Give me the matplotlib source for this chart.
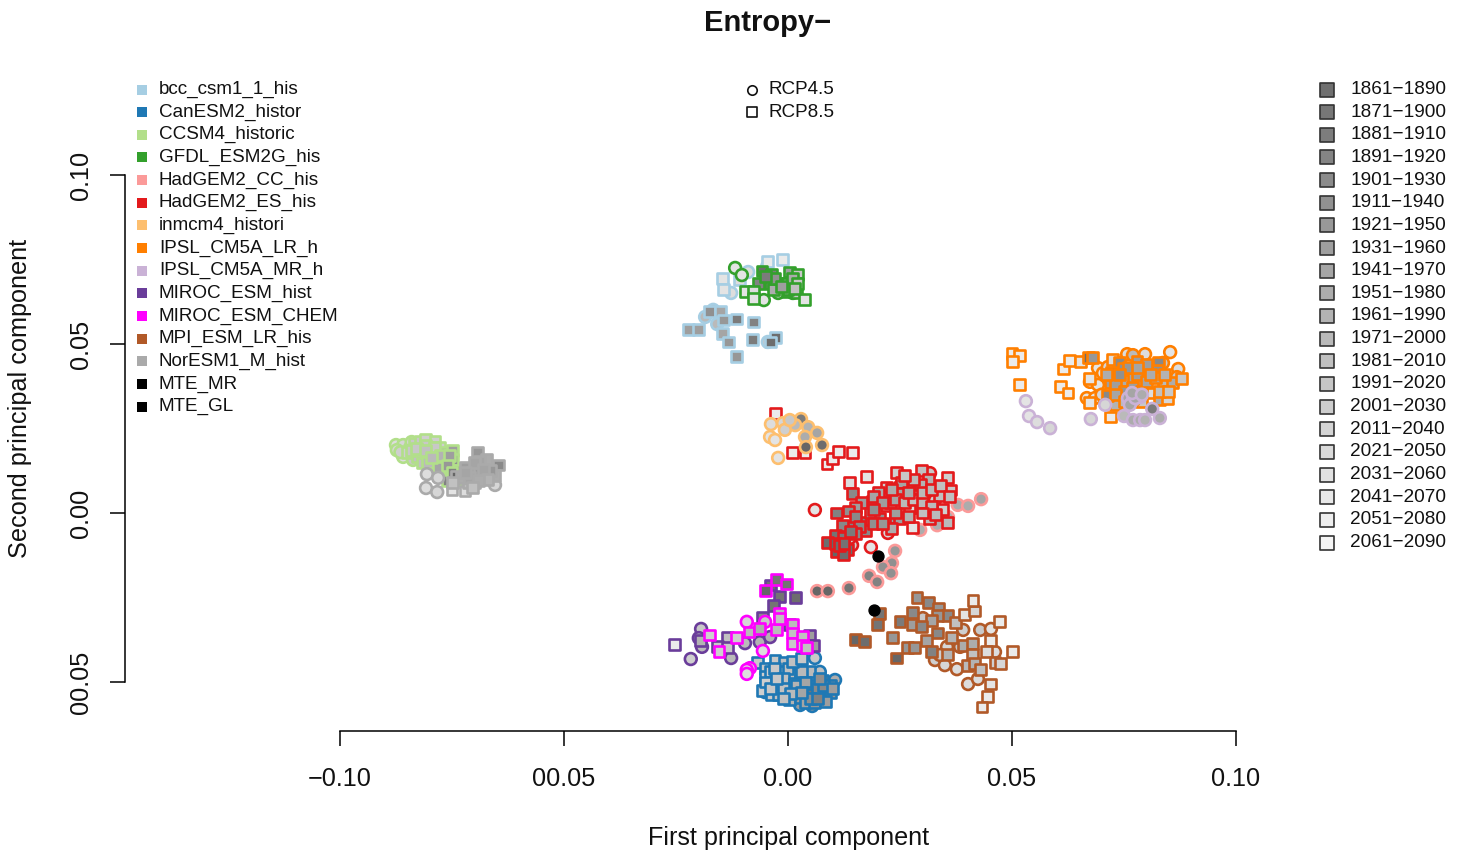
import matplotlib
matplotlib.use("Agg")
import matplotlib.pyplot as plt

plt.rcParams['font.family'] = ['Liberation Sans', 'DejaVu Sans']

W, H = 1461, 851

# ==========================================
# Data: (PC1 x 1000, PC2 x 1000, period index 0-19)
# ==========================================
bcc_circ = [(-8.9, 71.3, 17), (-12.7, 65.1, 17), (-4.7, 72.8, 18), (-18.5, 58.0, 12), (-15.8, 55.9, 12),
            (-16.7, 60.1, 11), (-4.5, 50.6, 14)]
bcc_sq = [(-4.5, 74.3, 19), (-1.3, 74.9, 19), (-14.7, 69.5, 18), (-14.5, 66.0, 18), (-10.9, 69.2, 17),
          (-17.6, 59.5, 6), (-15.0, 59.5, 9), (-14.5, 57.1, 7), (-11.6, 57.4, 3), (-7.6, 56.5, 4),
          (-22.3, 54.4, 8), (-19.9, 54.4, 8), (-14.7, 53.0, 9), (-13.2, 50.6, 7), (-8.0, 51.2, 3),
          (-11.4, 46.2, 7), (-2.7, 51.8, 1), (-4.0, 50.6, 1)]

can_circ = [(6, -42.9, 14), (7.1, -47, 13), (-5.1, -53, 14), (-0.7, -53.8, 14), (10.5, -49.4, 10), (4.9, -52.4, 9),
            (2.7, -56.8, 8), (5.4, -57.1, 7), (8.3, -52.4, 6), (0.4, -49.4, 12), (-2.2, -45, 13)]
can_sq = [(-6.9, -44.1, 14), (-5.1, -45.9, 14), (-2.9, -43.5, 14), (-0.7, -44.1, 13), (2, -45, 13), (-5.1, -48.5, 15),
          (-4, -50.9, 15), (-1.8, -47, 13), (0.4, -47.9, 13), (2.7, -49.4, 12), (4.9, -47, 12), (-5.8, -52.4, 15),
          (-3.6, -53.8, 14), (-1.3, -50.9, 13), (0.9, -52.4, 12), (3.1, -52.4, 11), (5.4, -50.9, 8), (7.6, -49.4, 3),
          (9.4, -50.9, 6), (0.4, -55.3, 11), (2.7, -54.7, 8), (4.9, -53.8, 2), (7.1, -53.8, 4), (9.4, -53, 7),
          (3.8, -56.2, 9), (6, -56.2, 7), (8.3, -55.9, 8), (-4, -47, 15), (-2.2, -53.8, 13),
          (-3, -46, 14), (0, -46, 13), (3, -47, 12), (-1, -49, 13), (1.5, -50.5, 12), (-3, -50, 14), (-5, -50, 15),
          (-1, -52, 13), (2, -51, 11), (4, -50, 9), (6.5, -52, 5), (8, -51, 5), (5, -55, 6), (6.5, -54.8, 4),
          (3, -53, 9), (0.5, -53.5, 12), (-1, -55, 13), (10, -52, 8), (7, -49, 6), (-4, -52, 14), (-2.5, -49, 14),
          (1, -44, 13), (3, -43, 14)]

ccsm_circ = [(-87.5, 20.1, 17), (-85.9, 20.1, 16), (-85.9, 16.6, 17), (-87.3, 18.6, 16), (-84.4, 19.2, 15),
             (-83.7, 15.7, 14), (-81.0, 17.2, 14), (-79.2, 13.6, 14), (-86.5, 18, 15), (-84, 21, 16), (-82, 16, 14)]
ccsm_sq = [(-83.3, 20.7, 14), (-82.1, 21.3, 14), (-81.0, 21.9, 15), (-78.8, 21.3, 15), (-80.4, 19.5, 13),
           (-82.6, 18.0, 13), (-85.0, 17.8, 15), (-82.8, 16.6, 13), (-79.9, 17.8, 14), (-77.7, 19.5, 15),
           (-77.0, 17.8, 9), (-74.8, 18.6, 8), (-81.5, 14.8, 13), (-79.2, 15.7, 13), (-77.0, 14.8, 6),
           (-74.8, 15.7, 6), (-76.3, 12.7, 5), (-73.7, 12.7, 5), (-75.4, 10.7, 3), (-77.7, 11.2, 8),
           (-74.3, 9.8, 2), (-78.3, 16.3, 12), (-84, 18.5, 14), (-81, 20, 14), (-79, 19.5, 14), (-77.5, 17, 11),
           (-75.5, 17, 8), (-80.5, 15, 12), (-78, 13.5, 9), (-76, 14, 7), (-76, 9.5, 4), (-75, 12, 4),
           (-83, 19, 14), (-81, 18.5, 13), (-79.5, 16.5, 12)]

gfdl_circ = [(-11.8, 72.5, 18), (-10.3, 70.4, 18), (-5.4, 63.0, 18), (-2.2, 65.1, 15), (1.1, 65.1, 14)]
gfdl_sq = [(-5.8, 71.6, 1), (-3.6, 70.7, 3), (0.4, 71.3, 8), (2.2, 70.7, 14), (-6.5, 68.0, 4), (-4.0, 68.0, 4),
           (-2.2, 68.0, 6), (-0.2, 68.0, 10), (1.6, 68, 12), (-9.4, 65.4, 18), (-7.8, 65.4, 17), (-7.8, 63.6, 18),
           (-3.3, 66, 10), (-0.2, 65.4, 12), (2, 65.1, 14), (3.6, 63.3, 18), (-2.9, 69.5, 6), (0.9, 69.5, 10),
           (2.2, 68, 14), (0, 66, 11), (1.5, 66.5, 13), (-1.5, 67, 8), (-5, 70, 3)]

cc_circ = [(37.9, 2.4, 10), (40.2, 2.1, 10), (43.1, 4.1, 9), (33.3, -3.6, 10), (29.5, -5, 10), (23.9, -11.2, 7),
           (23.2, -14.8, 6), (21.2, -16, 6), (23, -17.8, 6), (18.1, -18.6, 4), (19.9, -20.4, 4), (13.6, -22.2, 2),
           (6.5, -23.1, 0), (8.9, -23.1, 0), (35.7, -1.2, 10)]
cc_sq = []

es_circ = [(6, 0.9, 18), (18.5, -10.1, 18), (22.3, -5.9, 16), (14.3, -9.5, 15), (13.8, -7.4, 15), (29.9, 4.7, 13),
           (25.7, 10.7, 14), (31.7, 11.8, 14), (26.8, 5.3, 14), (32.8, 3.8, 15), (25, 8, 13), (29, 7, 13)]
es_sq = [(-2.7, 29.3, 19), (1.1, 17.8, 19), (3.8, 18.0, 19), (8.7, 14.5, 19), (10, 16, 19), (11.2, 18.3, 19),
         (14.5, 18.0, 19), (17.6, 10.7, 18), (13.8, 8.9, 17), (24.3, 12.1, 15), (29.9, 12.7, 13), (35.5, 10.4, 15),
         (36.2, 6.8, 14), (27.7, -4.4, 18), (35.7, -2.7, 12), (31.5, -1.5, 12), (34.4, 0.9, 15), (29, 1.5, 16),
         (27.2, 1.5, 17), (21.9, 7.7, 15), (21.9, 2.1, 16), (33.9, 5.3, 13), (31.3, 9.8, 11), (29.5, 8.3, 11),
         (25.4, 8.9, 9), (25.4, 5.9, 9), (20.3, 6.2, 10), (14.3, 5.9, 5), (18.8, 3.3, 8), (16.5, 3.0, 8),
         (15, 1.5, 8), (13.4, 0.6, 6), (10.9, 0, 4), (20.5, -1.5, 6), (23.9, -1.2, 8), (24.8, -1.5, 8),
         (16.1, -2.7, 4), (13.4, -4.1, 4), (17.2, -5.3, 5), (23.2, -4.7, 10), (12.1, -3.6, 5), (22.8, 3, 11),
         (18.3, 0, 7), (10.5, -6.5, 2), (12.3, -7.1, 3), (8.9, -8.6, 1), (10.9, -11.5, 0), (13.2, -10.9, 1),
         (12.3, -12.4, 1), (10.5, -8.9, 0), (19, 5, 9), (21, 3, 8), (24, 4, 9), (26, 3, 12), (28, 4, 13),
         (30, 3, 12), (32, 2, 12), (24, 0, 8), (27, -1, 11), (30, 0, 13), (33, -0.5, 12), (23, 7, 10), (27, 6, 10),
         (30, 6, 12), (32, 7, 12), (34, 8, 13), (28, 10, 12), (26, 11, 14), (19, 1, 6), (15, -1, 5), (16, -4, 5),
         (15, -6, 5), (11.5, -9.5, 1), (14, -5.5, 3), (12.5, -9, 2), (19, -3, 6), (21, -3, 7), (36, 5, 13)]

inm_circ = [(-3.8, 26.3, 17), (-1.1, 26.6, 16), (-4.0, 22.5, 18), (-2.9, 21.6, 18), (-2.2, 16.3, 18), (2.9, 27.8, 3),
            (4.5, 25.4, 11), (6.5, 23.7, 9), (3.8, 22.5, 10), (4.0, 19.5, 0), (7.6, 20.1, 1), (1.6, 26.0, 12),
            (-0.7, 24.6, 15), (0.4, 27.5, 14)]
inm_sq = []

lr_circ = [(75.7, 47, 17), (79.7, 47, 17), (85.3, 47.6, 18), (87.1, 42.6, 17), (69.2, 42.9, 18), (70.3, 41.4, 18),
           (67.4, 38.8, 18), (69.2, 37.9, 18), (66.7, 34, 18), (68.5, 34, 18), (71.4, 43.2, 16), (73.7, 44.4, 15),
           (83.7, 44.4, 14), (86.8, 40.2, 14), (77, 46.7, 12), (72, 39, 15), (70, 35, 16)]
lr_sq = [(50, 47.3, 19), (51.6, 46.7, 19), (50.2, 44.7, 19), (51.6, 37.9, 19), (61.4, 42.6, 19), (62.9, 45, 19),
         (65.2, 44.7, 18), (67, 45.9, 1), (67.9, 45.9, 7), (60.9, 37.3, 19), (62.5, 35.5, 19), (67.4, 39.9, 18),
         (67.4, 32.8, 18), (71.9, 28.4, 19), (73, 32.2, 11), (72.5, 45.3, 17), (74.1, 44.4, 5), (77.9, 44.7, 8),
         (72.3, 41.7, 2), (74.8, 42.9, 6), (71.9, 38.5, 8), (71.4, 34.9, 5), (75.9, 36.4, 0), (76.8, 39.9, 9),
         (79, 41.4, 9), (82.6, 44.4, 5), (82.4, 42.3, 6), (83.7, 37.9, 12), (81.3, 38.5, 16), (80.8, 35.5, 17),
         (83, 33.7, 10), (84.8, 34, 16), (85.9, 38.5, 10), (87.9, 39.9, 14), (78.6, 38.5, 9), (74.6, 39.3, 10),
         (73, 38, 8), (75, 36, 7), (77, 37, 8), (79, 36, 10), (78, 41, 8), (80, 39, 9), (82, 40, 10), (84, 41, 11),
         (76, 43, 7), (80, 44, 8), (73, 35, 9), (75, 33, 12), (71, 41, 10), (74, 41, 6), (78, 43, 9), (81, 41, 10),
         (83, 36, 13), (85, 36, 14), (79, 33, 14), (77, 34, 13)]

mr_circ = [(53.1, 33.1, 18), (53.8, 28.7, 18), (55.6, 26.9, 17), (58.5, 25.1, 16), (67.6, 27.8, 16), (70.8, 32, 16),
           (75, 28.7, 12), (77, 27.5, 10), (78.6, 27.5, 10), (79.7, 27.5, 11), (83, 28.1, 10), (81.3, 30.8, 3),
           (75.9, 34, 9), (77, 33.4, 9), (78.6, 34.3, 9), (76.3, 32, 9), (77.5, 34, 9), (76.8, 35.5, 9), (79, 35, 10)]
mr_sq = []

miroc_circ = [(-19.4, -34.3, 14), (-19.9, -37, 12), (-19.2, -39.6, 12), (-21.7, -43.2, 15), (-12.7, -42.9, 12),
              (-9.6, -38.5, 12), (-6.3, -38.2, 11), (-4, -36.7, 11)]
miroc_sq = [(-25.4, -38.8, 19), (-1.8, -24.6, 2), (1.6, -25.1, 1), (-3.3, -27.5, 2), (-4, -21.3, 1), (-5.6, -30.8, 5),
            (-19.6, -37.6, 11), (-13.6, -36.7, 13), (-15.8, -39.6, 14), (-13.4, -39.9, 14), (0.4, -33.1, 8),
            (4.9, -36.1, 8), (5.6, -39.3, 8)]

chem_circ = [(-9.2, -32.2, 16), (-5.1, -32.2, 14), (-5.6, -40.8, 17), (-8.5, -45.9, 17), (-9.2, -46.4, 17),
             (-9.2, -47.6, 17)]
chem_sq = [(-5.1, -22.8, 0), (-2.5, -19.8, 2), (-0.4, -21, 2), (-17.6, -36.1, 15), (-15.4, -41.1, 15), (-11.6, -36.7, 15),
           (-8.7, -35.2, 12), (-6.3, -34.3, 10), (-1.8, -29.6, 12), (-2.5, -34.6, 12), (0.9, -33.1, 12), (0.9, -35.5, 13),
           (1.1, -38.5, 14), (3.3, -36.4, 13), (3.3, -39.1, 14), (4.2, -39.9, 13), (-1.8, -31.1, 13)]

mpi_circ = [(30.1, -31.1, 14), (39.1, -34.6, 15), (42.9, -34.6, 14), (45.3, -34.3, 18), (35.5, -39.6, 16), (38.4, -39.6, 14),
            (46.2, -41.1, 17), (32.8, -43.5, 15), (35, -45, 16), (37.7, -46.2, 17), (40.2, -50.6, 17), (42.4, -49.1, 17),
            (33.9, -42, 15)]
mpi_sq = [(28.8, -24.9, 7), (31.3, -26.6, 5), (33.5, -28.1, 7), (27.7, -29.3, 5), (35.7, -30.2, 5), (33.3, -30.2, 7),
          (25, -32.2, 3), (32.1, -31.7, 9), (27.7, -33.1, 8), (29.9, -33.7, 5), (37.3, -32.5, 13), (39.5, -29.9, 18),
          (41.7, -29, 16), (41.3, -26, 19), (47.3, -32.2, 19), (33.3, -35.5, 5), (36.6, -36.7, 11), (23.4, -36.7, 7),
          (20.5, -29.6, 2), (19.9, -33.1, 2), (15, -37.3, 0), (17, -37.9, 1), (24.3, -42.9, 0), (26.6, -39.9, 7),
          (28.3, -39.9, 7), (31, -37.6, 9), (32.1, -41.1, 4), (35.5, -42, 11), (39.1, -39.1, 10), (41.1, -38.5, 10),
          (41.1, -42, 13), (40, -45, 12), (41.7, -44.4, 11), (42.9, -46.4, 13), (45.1, -37.6, 19), (44.4, -41.1, 17),
          (50.2, -41.1, 19), (46.2, -44.1, 15), (47.5, -44.4, 16), (45.1, -50.6, 18), (44.6, -54.4, 19), (43.3, -57.4, 19)]

nor_circ = [(-80.6, 11.5, 17), (-78.1, 10.4, 16), (-80.8, 7.4, 17), (-78.3, 6.2, 16), (-65.4, 8.3, 16)]
nor_sq = [(-75, 6.8, 18), (-72.1, 6.5, 17), (-73.9, 10.7, 0), (-72.1, 13.6, 8), (-69.4, 18.0, 7), (-67.2, 15.7, 10),
          (-64.7, 14.2, 5), (-65.4, 11.2, 10), (-69.4, 10.7, 9), (-71.4, 8.9, 12), (-68.8, 15.1, 9), (-70.5, 12.1, 8),
          (-66.5, 12.7, 7), (-72.8, 10.4, 10), (-74.8, 8.9, 13), (-68.8, 11.8, 8), (-69.9, 8.9, 10),
          (-70, 15, 9), (-68, 13, 9), (-67, 10, 11), (-71, 10.5, 9), (-72, 12, 9), (-69, 9.5, 10), (-70.5, 7.5, 13)]

mte_x = [20.1, 19.2]
mte_y = [-12.7, -28.7]

model_names = ["bcc_csm1_1_his", "CanESM2_histor", "CCSM4_historic", "GFDL_ESM2G_his", "HadGEM2_CC_his",
               "HadGEM2_ES_his", "inmcm4_histori", "IPSL_CM5A_LR_h", "IPSL_CM5A_MR_h", "MIROC_ESM_hist",
               "MIROC_ESM_CHEM", "MPI_ESM_LR_his", "NorESM1_M_hist", "MTE_MR", "MTE_GL"]
model_colors = ["#A6CEE3", "#1F78B4", "#B2DF8A", "#33A02C", "#FB9A99", "#E31A1C", "#FDBF6F", "#FF7F00",
                "#CAB2D6", "#6A3D9A", "#FF00FF", "#B15928", "#AAAAAA", "#000000", "#000000"]
scenario_names = ["RCP4.5", "RCP8.5"]
period_names = ["1861-1890", "1871-1900", "1881-1910", "1891-1920", "1901-1930", "1911-1940", "1921-1950",
                "1931-1960", "1941-1970", "1951-1980", "1961-1990", "1971-2000", "1981-2010", "1991-2020",
                "2001-2030", "2011-2040", "2021-2050", "2031-2060", "2041-2070", "2051-2080", "2061-2090"]

x_ticks = [-0.10, -0.05, 0.00, 0.05, 0.10]
x_labels = ["\u22120.10", "00.05", "0.00", "0.05", "0.10"]
y_ticks = [-0.05, 0.00, 0.05, 0.10]
y_labels = ["00.05", "0.00", "0.05", "0.10"]

series = [(bcc_circ, bcc_sq), (can_circ, can_sq), (ccsm_circ, ccsm_sq), (gfdl_circ, gfdl_sq),
          (cc_circ, cc_sq), (es_circ, es_sq), (inm_circ, inm_sq), (lr_circ, lr_sq), (mr_circ, mr_sq),
          (miroc_circ, miroc_sq), (chem_circ, chem_sq), (mpi_circ, mpi_sq), (nor_circ, nor_sq)]


def shade(p):
    v = 0.40 + p / 19 * 0.52
    return (v, v, v)


def draw_points(ax, pts, marker, color, size):
    if not pts:
        return
    xs = [p[0] / 1000 for p in pts]
    ys = [p[1] / 1000 for p in pts]
    cols = [shade(p[2]) for p in pts]
    ax.scatter(xs, ys, s=size, marker=marker, c=cols, edgecolors=color, linewidths=1.9, clip_on=False)


# ==========================================
# Main axes
# ==========================================
fig = plt.figure(figsize=(W / 100, H / 100), dpi=100, facecolor='white')
left, right, top, bottom = 125, 1236, 175, 731
ax = fig.add_axes([left / W, 1 - bottom / H, (right - left) / W, (bottom - top) / H])
ax.set_xlim((left - 788) / 4480, 0.10)
ax.set_ylim((513 - bottom) / 3380, 0.10)
ax.patch.set_alpha(0)

for (circ, sq), color in zip(series, model_colors):
    draw_points(ax, circ, 'o', color, 72)
    draw_points(ax, sq, 's', color, 62)

ax.scatter([v / 1000 for v in mte_x], [v / 1000 for v in mte_y], s=62, color='black', zorder=5, clip_on=False)

ax.spines['top'].set_visible(False)
ax.spines['right'].set_visible(False)
ax.spines['bottom'].set_bounds(-0.10, 0.10)
ax.spines['left'].set_bounds(-0.05, 0.10)
ax.spines['bottom'].set_linewidth(1.1)
ax.spines['left'].set_linewidth(1.1)
ax.set_xticks(x_ticks)
ax.set_xticklabels(x_labels)
ax.set_yticks(y_ticks)
ax.set_yticklabels(y_labels, rotation=90, va='center')
ax.tick_params(axis='x', length=11, width=1.1, labelsize=18.2, pad=15, labelcolor='#111111')
ax.tick_params(axis='y', length=11, width=1.1, labelsize=18.2, pad=12, labelcolor='#111111')

# ==========================================
# Title, axis labels, legends (overlay in pixel coordinates)
# ==========================================
ov = fig.add_axes([0, 0, 1, 1])
ov.set_xlim(0, W)
ov.set_ylim(H, 0)
ov.axis('off')
ov.patch.set_alpha(0)

ov.text(768, 23, "Entropy\u2212", ha='center', va='center', fontsize=21, fontweight='bold', color='#111111')
ov.text(789, 838, "First principal component", ha='center', va='center', fontsize=18.1, color='#111111')
ov.text(20, 398, "Second principal component", ha='center', va='center', rotation=90, fontsize=18.2, color='#111111')

row0, step = 89.5, 22.65
for i, (name, color) in enumerate(zip(model_names, model_colors)):
    y = row0 + i * step
    ov.scatter([142], [y], s=42, marker='s', color=color, linewidths=0)
    ov.text(159, y, name, ha='left', va='center', fontsize=13.6, color='#111111')

for i, (name, marker) in enumerate(zip(scenario_names, ['o', 's'])):
    y = row0 + i * step
    ov.scatter([752], [y], s=46, marker=marker, facecolors='white', edgecolors='#111111', linewidths=1.2)
    ov.text(769, y, name, ha='left', va='center', fontsize=13.6, color='#111111')

for i, name in enumerate(period_names):
    y = row0 + i * step
    v = 0.44 + i / 20 * 0.52
    ov.scatter([1327], [y], s=95, marker='s', color=(v, v, v), edgecolors='#333333', linewidths=1.2)
    ov.text(1350, y, name.replace('-', '\u2212'), ha='left', va='center', fontsize=13.7, color='#111111')

plt.savefig("out.png", dpi=100, facecolor='white')
plt.close()
